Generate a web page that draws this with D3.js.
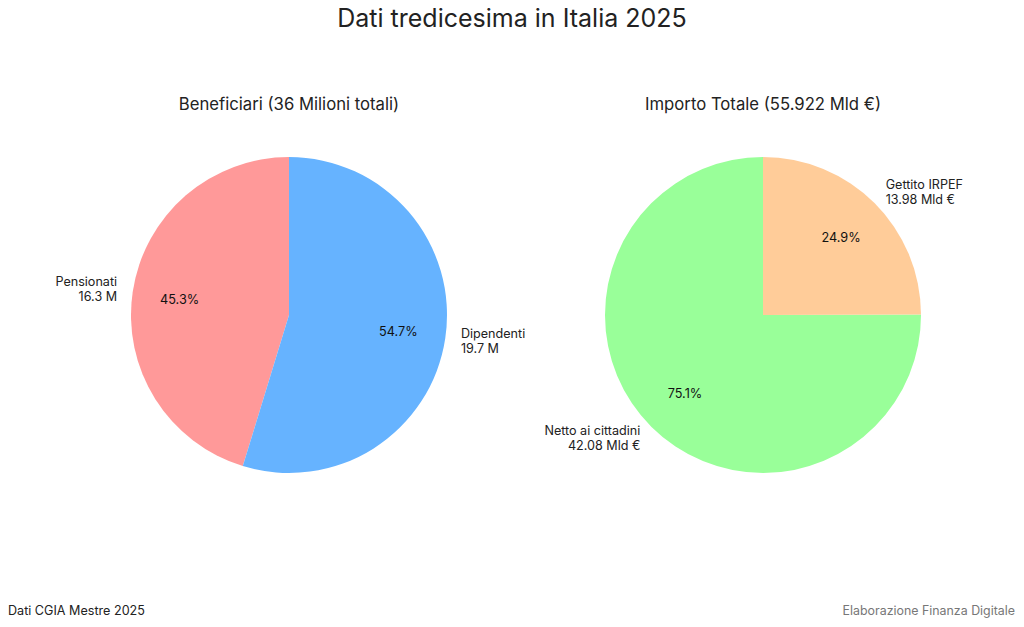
<!DOCTYPE html>
<html><head><meta charset="utf-8">
<script src="https://cdn.jsdelivr.net/npm/d3@7"></script>
<style>
body{margin:0;background:#fff;}
svg{display:block;font-family:"Inter","Open Sans",sans-serif;}
</style></head>
<body>
<svg id="c" width="1024" height="627"></svg>
<script>
const title = "Dati tredicesima in Italia 2025";
const leftTitle = "Beneficiari (36 Milioni totali)";
const rightTitle = "Importo Totale (55.922 Mld €)";
const leftCats = ["Pensionati", "Dipendenti"];
const leftValues = [16.3, 19.7];
const leftLabels = ["16.3 M", "19.7 M"];
const leftColors = ["#ff9999", "#66b3ff"];
const rightCats = ["Netto ai cittadini", "Gettito IRPEF"];
const rightValues = [42.08, 13.98];
const rightLabels = ["42.08 Mld €", "13.98 Mld €"];
const rightColors = ["#99ff99", "#ffcc99"];
const sourceText = "Dati CGIA Mestre 2025";
const creditText = "Elaborazione Finanza Digitale";

const svg = d3.select("#c");
svg.append("text").attr("x", 512).attr("y", 27).attr("text-anchor","middle")
  .attr("font-size", 25).attr("fill","#222").text(title);

function drawPie(cx, cy, r, cats, vals, labs, cols, ttl){
  const g = svg.append("g").attr("transform", `translate(${cx},${cy})`);
  svg.append("text").attr("x", cx).attr("y", 110).attr("text-anchor","middle")
    .attr("font-size", 16.7).attr("fill","#222").text(ttl);
  // matplotlib: startangle 90, counterclockwise
  const pie = d3.pie().sort(null).value(d=>d).startAngle(0).endAngle(-2*Math.PI);
  const arcs = pie(vals);
  const arc = d3.arc().innerRadius(0).outerRadius(r);
  const total = d3.sum(vals);
  g.selectAll("path").data(arcs).join("path").attr("d", arc).attr("fill", (d,i)=>cols[i]);
  arcs.forEach((a,i)=>{
    const mid = (a.startAngle + a.endAngle)/2;
    const sx = Math.sin(mid), sy = -Math.cos(mid);
    const px = 0.7*r*sx, py = 0.7*r*sy;
    g.append("text").attr("x", px).attr("y", py + 0.5).attr("dy","0.35em").attr("text-anchor","middle")
      .attr("font-size", 12.7).attr("fill","#111").text((vals[i]/total*100).toFixed(1)+"%");
    const lx = 1.1*r*sx, ly = 1.1*r*sy;
    const anchor = sx < 0 ? "end" : "start";
    const t = g.append("text").attr("text-anchor", anchor).attr("font-size", 12.6).attr("fill","#222");
    t.append("tspan").attr("x", lx).attr("y", ly - 7.5).attr("dy","0.35em").text(cats[i]);
    t.append("tspan").attr("x", lx).attr("y", ly + 7.5).attr("dy","0.35em").text(labs[i]);
  });
}
drawPie(289, 315, 158, leftCats, leftValues, leftLabels, leftColors, leftTitle);
drawPie(763, 315, 158, rightCats, rightValues, rightLabels, rightColors, rightTitle);

svg.append("text").attr("x", 8).attr("y", 615).attr("font-size", 12.6).attr("fill","#222").text(sourceText);
svg.append("text").attr("x", 1015).attr("y", 615).attr("text-anchor","end").attr("font-size", 12.4).attr("fill","#777").text(creditText);
</script>
</body></html>
